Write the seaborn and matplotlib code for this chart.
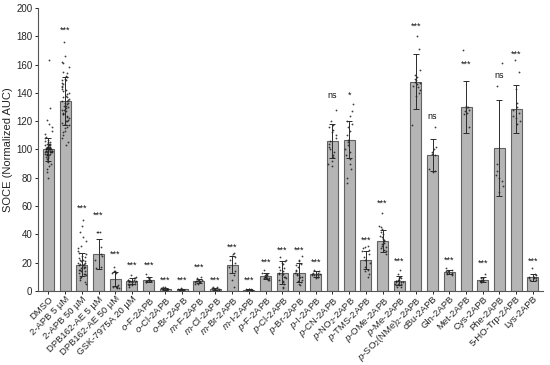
import matplotlib
matplotlib.use("Agg")
import matplotlib.pyplot as plt
import numpy as np
import pandas as pd
import seaborn as sns

categories = [
    "DMSO", "2-APB 5 µM", "2-APB 50 µM", "DPB162-AE 5 µM", "DPB162-AE 50 µM",
    "GSK-7975A 20 µM", r"$\it{o}$-F-2APB", r"$\it{o}$-Cl-2APB", r"$\it{o}$-Br-2APB",
    r"$\it{m}$-F-2APB", r"$\it{m}$-Cl-2APB", r"$\it{m}$-Br-2APB", r"$\it{m}$-I-2APB",
    r"$\it{p}$-F-2APB", r"$\it{p}$-Cl-2APB", r"$\it{p}$-Br-2APB", r"$\it{p}$-I-2APB",
    r"$\it{p}$-CN-2APB", r"$\it{p}$-NO$_2$-2APB", r"$\it{p}$-TMS-2APB",
    r"$\it{p}$-OMe-2APB", r"$\it{p}$-Me-2APB", r"$\it{p}$-SO$_2$(NMe)$_2$-2APB",
    "cBu-2APB", "Gln-2APB", "Met-2APB", "Cys-2APB", "Phe-2APB",
    "5-HO-Trp-2APB", "Lys-2APB",
]

means = [100, 134, 18.6, 26, 8.5, 7, 8, 1.5, 1, 7, 1.2, 18.4, 0.8, 10.4, 13, 13,
         11.8, 106, 107, 22, 35.3, 7.3, 148, 96, 13.2, 130, 8, 101, 128.6, 9.7]
sds = [8, 17, 8, 10.5, 5, 2, 2, 0.8, 0.5, 1.5, 0.8, 6, 0.4, 2, 8, 7,
       2, 12, 13, 6.5, 7.5, 3, 19.5, 11.5, 1.5, 18.5, 1.5, 34, 17, 2.5]

sig_labels = ["", "***", "***", "***", "***", "***", "***", "***", "***", "***",
              "***", "***", "***", "***", "***", "***", "***", "ns", "*", "***",
              "***", "***", "***", "ns", "***", "***", "***", "ns", "***", "***"]
sig_heights = [0, 184.5, 58.6, 53.7, 25.6, 18.4, 18.4, 7.3, 7.3, 17, 7.3, 30.9, 7.3,
               20, 28.7, 28.7, 20.6, 138, 138, 36, 62, 20.7, 187, 123, 22, 160,
               19.6, 152, 167, 20.7]

# individual replicate values per group
points = [
    [163, 129, 121, 118, 116, 113, 111, 109, 108, 107, 106, 105, 105, 104, 104, 103,
     103, 102, 102, 102, 101, 101, 101, 100, 100, 100, 100, 99, 99, 99, 99, 98, 98,
     98, 97, 97, 97, 96, 96, 95, 95, 94, 93, 92, 91, 90, 88, 86, 84, 80, 101, 99,
     100, 98, 102, 97, 103, 100, 99, 101, 98, 102, 96, 104],
    [176, 166, 162, 161, 158, 155, 154, 152, 151, 150, 149, 149, 147, 146, 145, 144,
     143, 142, 141, 140, 139, 138, 137, 137, 136, 135, 134, 133, 133, 132, 131, 130,
     129, 128, 127, 126, 125, 124, 123, 122, 121, 120, 119, 118, 117, 116, 115, 113,
     112, 110, 108, 105, 103, 134, 131, 128, 125, 120],
    [50, 46, 42, 38, 35, 32, 30, 28, 27, 26, 25, 24, 23, 22, 22, 21, 21, 20, 20, 19,
     19, 18, 18, 17, 17, 16, 16, 15, 15, 14, 14, 13, 12, 12, 11, 10, 9, 8, 6, 5],
    [42, 42, 42, 31, 25, 22, 16, 17, 26],
    [17, 14, 14, 13, 13, 4, 3, 3, 3, 2, 2],
    [11, 10, 9, 9, 8, 8, 8, 7, 7, 7, 7, 6, 6, 6, 6, 5, 5, 5, 4, 4, 4, 3],
    [12, 10, 9, 9, 8, 8, 8, 7, 7, 7, 6, 6],
    [3, 2.5, 2, 2, 1.5, 1.5, 1, 1, 0.8, 0.5],
    [2, 1.5, 1.2, 1, 0.8, 0.6, 0.5],
    [10, 9, 8, 8, 7, 7, 7, 6, 6, 6, 5, 5],
    [3, 2.5, 2, 1.5, 1, 0.8, 0.5],
    [27, 26, 25, 24, 22, 20, 17, 14, 11, 8, 3],
    [1.5, 1.2, 1, 1, 0.8, 0.8, 0.6, 0.5, 0.4],
    [15, 13, 12, 11, 11, 10, 10, 10, 9, 9, 9, 8, 8],
    [24, 22, 21, 20, 19, 17, 16, 15, 14, 13, 12, 12, 11, 10, 10, 9, 8, 7, 6, 5, 3, 2],
    [25, 22, 21, 19, 18, 17, 15, 14, 13, 12, 11, 11, 10, 10, 9, 8, 7, 6, 5, 4],
    [15, 14, 13, 13, 12, 12, 12, 11, 11, 11, 10, 10, 10, 9],
    [128, 120, 117, 116, 114, 112, 110, 108, 106, 104, 102, 100, 98, 96, 95, 92, 90, 88],
    [132, 127, 124, 120, 118, 116, 113, 110, 107, 105, 103, 100, 98, 96, 93, 90, 86, 80, 76],
    [32, 31, 30, 29, 28, 26, 24, 22, 20, 17, 15, 14, 12, 10],
    [55, 46, 45, 44, 42, 40, 39, 38, 37, 36, 35, 34, 33, 32, 31, 30, 29, 28, 26],
    [15, 12, 10, 9, 9, 8, 8, 7, 7, 7, 6, 6, 6, 5, 5, 5, 4, 4, 3, 3],
    [180, 171, 156, 153, 151, 150, 149, 148, 147, 146, 145, 144, 142, 140, 138, 117],
    [116, 102, 100, 98, 97, 96, 86, 85, 84],
    [16, 15, 14, 14, 13, 13, 12, 12, 11],
    [170, 131, 130, 129, 128, 127, 126, 125, 116],
    [12, 9, 9, 8, 8, 7, 7, 7, 6, 6],
    [161, 145, 90, 85, 82, 80, 78, 74, 70],
    [163, 155, 143, 133, 130, 128, 126, 124, 122, 120, 118],
    [16, 12, 11, 10, 10, 9, 9, 9, 8, 8],
]

sns.set_theme(style="ticks")
plt.rcParams["font.family"] = ["Liberation Sans", "DejaVu Sans"]
plt.rcParams["mathtext.fontset"] = "custom"
plt.rcParams["mathtext.rm"] = "Liberation Sans"
plt.rcParams["mathtext.it"] = "Liberation Sans:italic"

bar_df = pd.DataFrame({"group": categories, "mean": means, "sd": sds})
pt_df = pd.DataFrame(
    [(g, v) for g, vals in zip(categories, points) for v in vals],
    columns=["group", "value"],
)

fig = plt.figure(figsize=(5.5, 3.65), dpi=100)
ax = fig.add_axes([0.069, 0.203, 0.918, 0.775])

sns.barplot(data=bar_df, x="group", y="mean", order=categories, color="#b5b5b5",
            saturation=1, width=0.66, edgecolor="#626262", linewidth=0.8,
            errorbar=None, ax=ax)

np.random.seed(3)
sns.stripplot(data=pt_df, x="group", y="value", order=categories, color="#1e1e1e",
              size=1.3, jitter=0.24, alpha=0.85, linewidth=0, ax=ax)

xs = np.arange(len(categories))
ax.errorbar(xs, means, yerr=sds, fmt="none", ecolor="#2a2a2a", elinewidth=0.7,
            capsize=2.5, capthick=0.7, zorder=4)

for x, lab, h in zip(xs, sig_labels, sig_heights):
    if lab:
        ax.text(x, h, lab, ha="center", va="center", fontsize=6.5, color="#111111")

ax.set_xlim(-0.63, 29.6)
ax.set_ylim(0, 200)
ax.set_yticks(range(0, 201, 20))
ax.set_xlabel("")
ax.set_ylabel("SOCE (Normalized AUC)", fontsize=8, labelpad=2)
ax.tick_params(axis="y", labelsize=7, length=2.5, width=0.7, pad=1.5)
ax.tick_params(axis="x", labelsize=6.8, length=2, width=0.7, pad=0.5)
ax.set_xticks(xs)
ax.set_xticklabels(categories, rotation=45, ha="right", rotation_mode="anchor")
for s in ["left", "bottom"]:
    ax.spines[s].set_linewidth(0.8)
    ax.spines[s].set_color("#555555")
sns.despine(ax=ax)

fig.savefig("out.png", dpi=100)
